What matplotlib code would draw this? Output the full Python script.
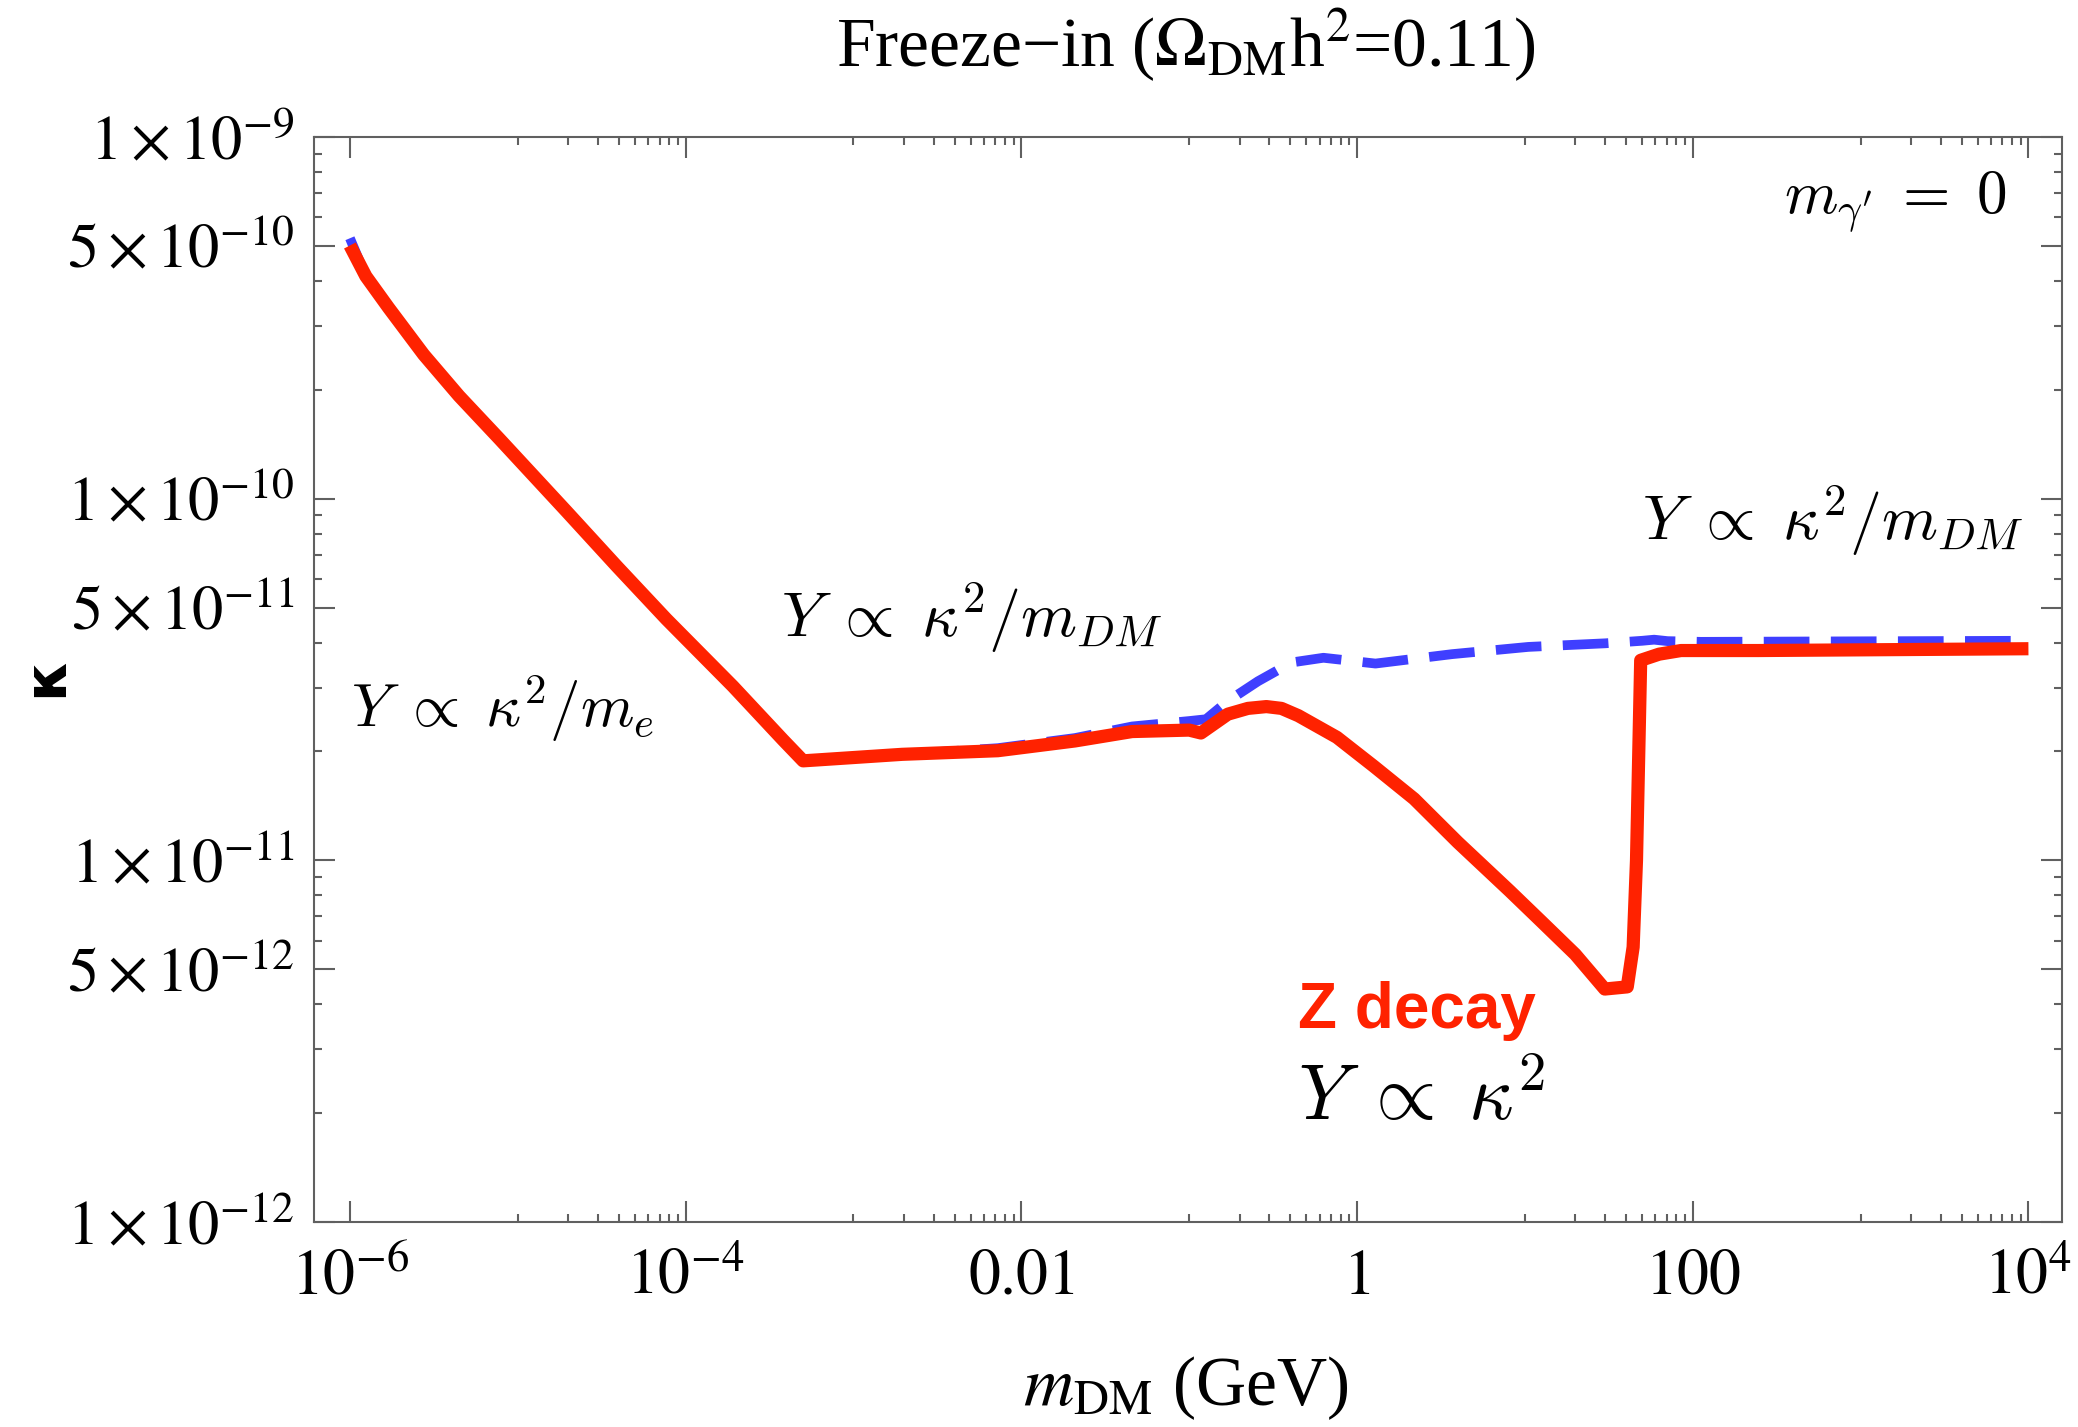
import numpy as np
import matplotlib
matplotlib.use("Agg")
import matplotlib.pyplot as plt

plt.rcParams['mathtext.fontset'] = 'stix'
plt.rcParams['font.family'] = ['Liberation Serif', 'DejaVu Serif']

# log10 of m_DM (GeV) and log10 of kappa
red_logm = [-6.0, -5.905, -5.77, -5.56, -5.35, -5.107, -4.71, -4.41, -4.115, -3.718, -3.42,
            -3.30, -3.2, -2.71, -2.14, -1.68, -1.34, -1.0, -0.93, -0.77, -0.65, -0.54,
            -0.45, -0.35, -0.12, 0.1, 0.34, 0.6, 0.91, 1.1, 1.30, 1.476, 1.61, 1.645, 1.665,
            1.68, 1.69, 1.80, 1.93, 2.39, 4.0]
red_logk = [-9.30, -9.385, -9.472, -9.602, -9.716, -9.836, -10.035, -10.187, -10.333, -10.519, -10.667,
            -10.725, -10.722, -10.707, -10.697, -10.67, -10.644, -10.64, -10.648, -10.596, -10.58, -10.575,
            -10.58, -10.60, -10.66, -10.74, -10.83, -10.95, -11.085, -11.17, -11.26, -11.356, -11.35, -11.24, -11.0,
            -10.67, -10.447, -10.43, -10.42, -10.42, -10.415]

blue_logm = [-6.0, -5.905, -5.77, -5.56, -5.35, -5.107, -4.71, -4.41, -4.115, -3.718, -3.42,
             -3.30, -3.2, -2.71, -2.14, -1.68, -1.34, -1.0, -0.9, -0.77, -0.59, -0.39,
             -0.2, 0.11, 0.566, 1.02, 1.48, 1.70, 1.77, 1.85, 2.05, 4.0]
blue_logk = [-9.28, -9.385, -9.472, -9.602, -9.716, -9.836, -10.035, -10.187, -10.333, -10.519, -10.667,
             -10.725, -10.722, -10.707, -10.69, -10.662, -10.63, -10.615, -10.61, -10.56, -10.505, -10.453,
             -10.44, -10.456, -10.43, -10.41, -10.40, -10.393, -10.390, -10.394, -10.396, -10.393]

m_red = 10.0 ** np.array(red_logm)
k_red = 10.0 ** np.array(red_logk)
m_blue = 10.0 ** np.array(blue_logm)
k_blue = 10.0 ** np.array(blue_logk)

xticks = [1e-6, 1e-4, 1e-2, 1, 1e2, 1e4]
xlabels = [r'$10^{-6}$', r'$10^{-4}$', r'$0.01$', r'$1$', r'$100$', r'$10^{4}$']
xminor = [k * 10.0 ** n for n in (-5, -3, -1, 1, 3) for k in range(1, 10)]

yticks = [1e-12, 5e-12, 1e-11, 5e-11, 1e-10, 5e-10, 1e-9]
ylabels = [r'$1\times10^{-12}$', r'$5\times10^{-12}$', r'$1\times10^{-11}$', r'$5\times10^{-11}$',
           r'$1\times10^{-10}$', r'$5\times10^{-10}$', r'$1\times10^{-9}$']
yminor = [k * 10.0 ** n for n in (-12, -11, -10) for k in (2, 3, 4, 6, 7, 8, 9)]

RED = '#ff2200'
BLUE = '#3f3fff'
AX = '#606060'

fig = plt.figure(figsize=(20.78, 14.27), dpi=100)
ax = fig.add_axes([0.1511, 0.1437, 0.8412, 0.7603])

ax.plot(m_blue, k_blue, color=BLUE, lw=7, dashes=(4.7, 2.2), dash_joinstyle='round')
ax.plot(m_red, k_red, color=RED, lw=9.5, solid_capstyle='butt', solid_joinstyle='round')

ax.set_xscale('log')
ax.set_yscale('log')
ax.set_xlim(10 ** -6.214, 10 ** 4.2)
ax.set_ylim(1e-12, 1e-9)

ax.set_xticks(xticks, xlabels)
ax.set_xticks(xminor, [''] * len(xminor), minor=True)
ax.set_yticks(yticks, ylabels)
ax.set_yticks(yminor, [''] * len(yminor), minor=True)
ax.tick_params(which='both', direction='in', top=True, right=True, color=AX, width=1.5)
ax.tick_params(which='major', length=15)
ax.tick_params(which='minor', length=6)
ax.tick_params(axis='x', which='major', labelsize=46, pad=20)
ax.tick_params(axis='y', which='major', labelsize=45, pad=14)
for s in ax.spines.values():
    s.set_color(AX)
    s.set_linewidth(1.5)

fig.text(0.5706, 0.968, 'Freeze\u2212in ($\\Omega_{\\rm DM}$h$^2$=0.11)', ha='center', va='center', fontsize=50)
fig.text(0.5706, 0.027, r'$m_{\rm DM}$ (GeV)', ha='center', va='center', fontsize=50)
fig.text(0.022, 0.526, '\u03ba', rotation=90, ha='center', va='center', fontsize=42,
         family='DejaVu Sans', fontweight='bold')

ann = dict(math_fontfamily='cm', fontsize=44)
ax.text(10 ** -5.994, 10 ** -10.58, r'$Y\;\propto\;\kappa^2/m_e$', ha='left', va='center', **ann)
ax.text(10 ** -3.43, 10 ** -10.33, r'$Y\;\propto\;\kappa^2/m_{DM}$', ha='left', va='center',
        math_fontfamily='cm', fontsize=46)
ax.text(10 ** 3.97, 10 ** -10.06, r'$Y\;\propto\;\kappa^2/m_{DM}$', ha='right', va='center',
        math_fontfamily='cm', fontsize=46)
ax.text(10 ** 3.87, 10 ** -9.18, r"$m_{\gamma'}\;=\;0$", ha='right', va='center', **ann)
ax.text(10 ** -0.35, 10 ** -11.417, 'Z decay', ha='left', va='center', color=RED,
        family='Liberation Sans', fontweight='bold', fontsize=46)
ax.text(10 ** -0.35, 10 ** -11.667, r'$Y\;\propto\;\kappa^2$', ha='left', va='center',
        math_fontfamily='cm', fontsize=56)

fig.savefig('out.png', dpi=100)
